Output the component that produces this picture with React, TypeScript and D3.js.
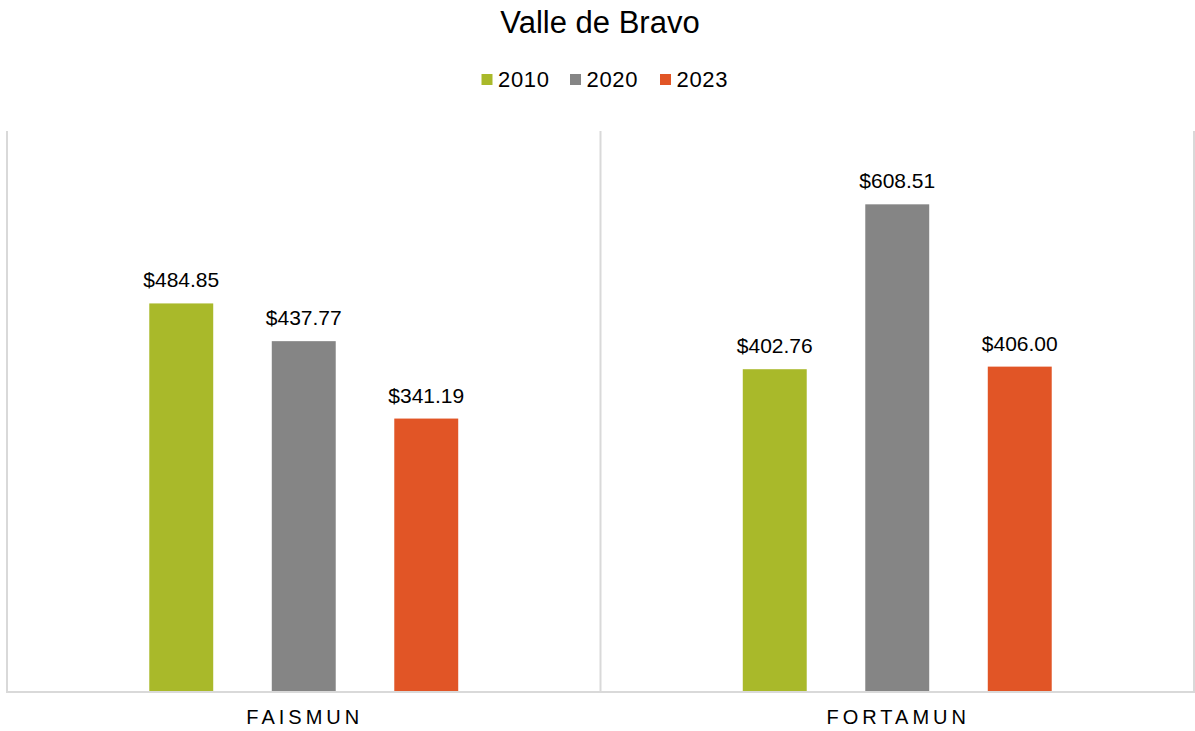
import React from "react";
import * as d3 from "d3";

const categories = ["FAISMUN", "FORTAMUN"];
const years = ["2010", "2020", "2023"];
const values2010 = [484.85, 402.76];
const values2020 = [437.77, 608.51];
const values2023 = [341.19, 406.0];
const colors = ["#a9b92a", "#858585", "#e15526"];

const width = 1195;
const height = 731;
const plot = { left: 7, right: 1194, top: 131, bottom: 692 };

const series = [values2010, values2020, values2023];

const App = () => {
  const x = d3
    .scaleBand()
    .domain(categories)
    .range([plot.left, plot.right])
    .padding(0);

  const half = 183.75;
  const inner = d3
    .scaleBand()
    .domain(years)
    .range([x.bandwidth() / 2 - half, x.bandwidth() / 2 + half])
    .paddingInner(0.478)
    .paddingOuter(0.239);

  const y = d3.scaleLinear().domain([0, 700]).range([plot.bottom, plot.top]);
  const fmt = d3.format("$,.2f");
  const font = "Arial, 'Liberation Sans', sans-serif";

  // legend layout
  const legendX = [481.5, 570, 660];

  return (
    <svg
      width={width}
      height={height}
      style={{ position: "absolute", left: 0, top: 0, background: "#fff" }}
      fontFamily={font}
    >
      <rect width={width} height={height} fill="#fff" />
      <text x={600} y={33} textAnchor="middle" fontSize={31} fill="#000">
        Valle de Bravo
      </text>

      {years.map((yr, i) => (
        <g key={yr} transform={`translate(${legendX[i]},0)`}>
          <rect x={0} y={74} width={11} height={11} fill={colors[i]} />
          <text x={16.5} y={87} fontSize={22} letterSpacing={0.7} fill="#000">
            {yr}
          </text>
        </g>
      ))}

      {/* category separators */}
      {[plot.left, ...categories.map(c => (x(c) as number) + x.bandwidth())].map(
        (gx, i) => (
          <line
            key={i}
            x1={gx}
            x2={gx}
            y1={plot.top}
            y2={plot.bottom}
            stroke="#d9d9d9"
            strokeWidth={2}
          />
        )
      )}

      {categories.map((c, ci) => (
        <g key={c} transform={`translate(${x(c)},0)`}>
          {years.map((yr, si) => {
            const v = series[si][ci];
            const bx = inner(yr) as number;
            return (
              <g key={yr}>
                <rect
                  x={bx}
                  y={y(v)}
                  width={inner.bandwidth()}
                  height={y(0) - y(v)}
                  fill={colors[si]}
                />
                <text
                  x={bx + inner.bandwidth() / 2}
                  y={y(v) - 16}
                  textAnchor="middle"
                  fontSize={21}
                  fill="#000"
                >
                  {fmt(v)}
                </text>
              </g>
            );
          })}
          <text
            x={x.bandwidth() / 2 + 1}
            y={724}
            textAnchor="middle"
            fontSize={20}
            letterSpacing={4}
            fill="#000"
          >
            {c}
          </text>
        </g>
      ))}

      <line
        x1={plot.left - 1}
        x2={plot.right + 1}
        y1={plot.bottom}
        y2={plot.bottom}
        stroke="#d9d9d9"
        strokeWidth={2}
      />
    </svg>
  );
};

export default App;
